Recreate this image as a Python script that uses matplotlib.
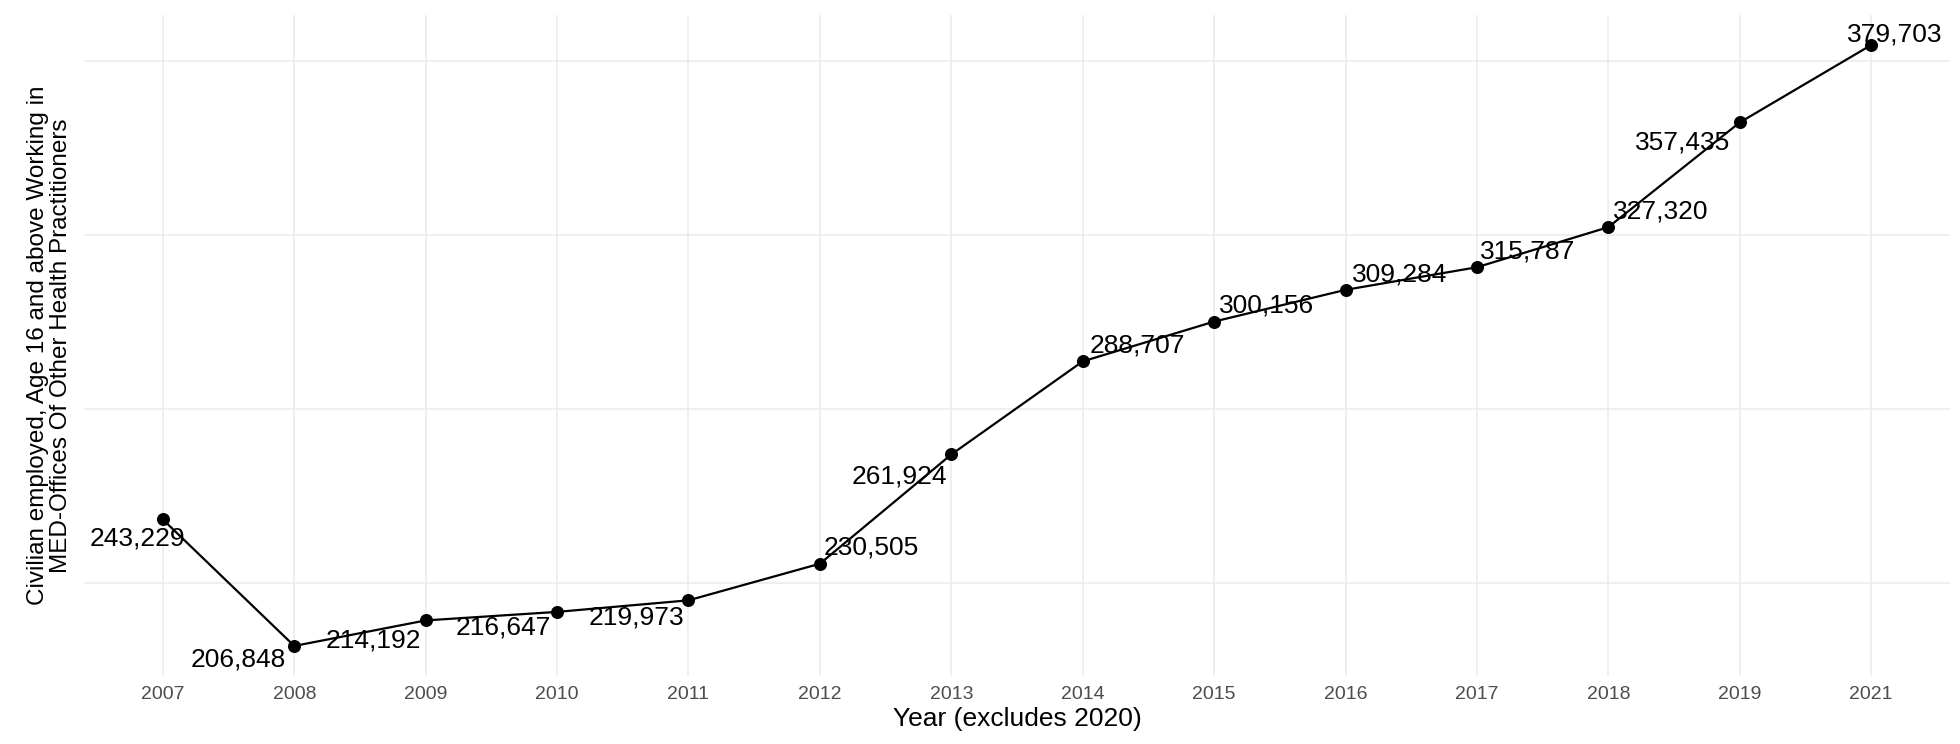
import numpy as np
import matplotlib
matplotlib.use('Agg')
import matplotlib.pyplot as plt

plt.rcParams['font.family'] = ['Liberation Sans', 'DejaVu Sans']

years = ['2007', '2008', '2009', '2010', '2011', '2012', '2013',
         '2014', '2015', '2016', '2017', '2018', '2019', '2021']
employed = [243229, 206848, 214192, 216647, 219973, 230505, 261924,
            288707, 300156, 309284, 315787, 327320, 357435, 379703]
grid_values = [225000, 275000, 325000, 375000]

# label offsets in pixels (dx, dy), roughly like ggrepel put them
label_offsets = [(-25, -19), (-56, -14), (-52, -20), (-54, -16), (-52, -17),
                 (51, 16), (-52, -22), (55, 16), (52, 16), (54, 15),
                 (51, 16), (52, 16), (-57, -20), (24, 11)]

fig = plt.figure(figsize=(19.6, 7.44), dpi=100)
ax = fig.add_axes([84/1960, 68/744, 1866/1960, 661/744])

x = np.arange(len(years))
ax.plot(x, employed, color='black', linewidth=1.6, zorder=3)
ax.scatter(x, employed, s=70, color='black', zorder=4)

for xi, yi, (dx, dy) in zip(x, employed, label_offsets):
    ax.annotate(f'{yi:,}', (xi, yi), xytext=(dx, dy), textcoords='offset pixels',
                ha='center', va='center', fontsize=19, color='black', zorder=5)

span = max(employed) - min(employed)
ax.set_ylim(min(employed) - 0.05 * span, max(employed) + 0.05 * span)
ax.set_xlim(-0.6, len(years) - 0.4)

ax.set_xticks(x)
ax.set_xticklabels(years)
ax.set_yticks(grid_values)
ax.set_yticklabels([])
ax.tick_params(axis='both', length=0)
ax.tick_params(axis='x', labelsize=14, labelcolor='#4d4d4d', pad=7)
ax.grid(True, color='#ebebeb', linewidth=1.1)
ax.set_axisbelow(True)
for s in ax.spines.values():
    s.set_visible(False)

ax.set_xlabel('Year (excludes 2020)', fontsize=19, labelpad=3)
ax.set_ylabel('Civilian employed, Age 16 and above Working in\nMED-Offices Of Other Health Practitioners',
              fontsize=17.5, labelpad=5, linespacing=1.05)

fig.savefig('out.png', dpi=100)
